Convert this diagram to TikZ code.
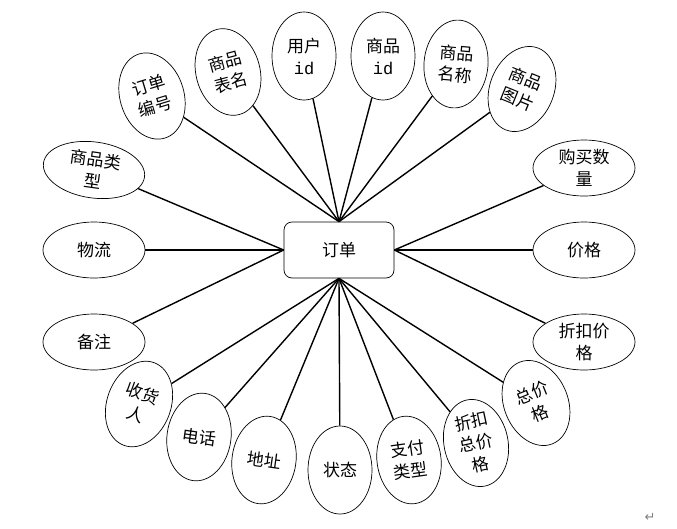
\documentclass[tikz,border=0pt]{standalone}
\usepackage{fontspec}
\setmainfont{Noto Sans CJK SC}
\setmonofont{Liberation Mono}
\newfontfamily\symfont{DejaVu Sans}
\usetikzlibrary{shapes.geometric}
\begin{document}
\begin{tikzpicture}[x=1pt,y=-1pt,
  attr/.style={draw, ellipse, line width=0.7pt, inner sep=0pt, align=center, font=\fontsize{17}{22}\selectfont},
  vattr/.style={attr, minimum width=64pt, minimum height=88pt},
  hattr/.style={attr, minimum width=102pt, minimum height=56pt},
  link/.style={line width=1.4pt}]
\useasboundingbox[fill=white] (0,0) rectangle (677,528);
\node[draw, rounded corners=8pt, minimum width=110pt, minimum height=56pt, line width=0.7pt, font=\fontsize{17}{22}\selectfont] (order) at (339,250) {订单};
\node[vattr, rotate=17] (ddbh) at (152,96) {订单\\编号};
\node[vattr, rotate=15] (spbm) at (228,72) {商品\\表名};
\node[vattr] (yhid) at (304,56) {用户\\{\ttfamily id}};
\node[vattr] (spid) at (383,56) {商品\\{\ttfamily id}};
\node[vattr, rotate=-5] (spmc) at (456,64) {商品\\名称};
\node[vattr, rotate=-22] (sptp) at (522,89) {商品\\图片};
\node[hattr] (gmsl) at (584,168) {购买数\\量};
\node[hattr] (jg) at (584,250) {价格};
\node[hattr] (zkjg) at (584,342) {折扣价\\格};
\node[vattr, rotate=22] (zjg) at (536,403) {总价\\格};
\node[vattr, rotate=12] (zkzjg) at (476,443) {折扣\\总价\\格};
\node[vattr, rotate=8] (zflx) at (409,460) {支付\\类型};
\node[vattr] (zt) at (340,470) {状态};
\node[vattr, rotate=-8] (dz) at (264,460) {地址};
\node[vattr, rotate=-8] (dh) at (199,437) {电话};
\node[vattr, rotate=-20] (shr) at (139,404) {收货\\人};
\node[hattr] (bz) at (94,342) {备注};
\node[hattr] (wl) at (94,250) {物流};
\node[hattr, rotate=-8] (splx) at (94,170) {商品类\\型};
\foreach \n in {ddbh,spbm,yhid,spid,spmc,sptp} \draw[link] (order.north) -- (\n);
\foreach \n in {splx,wl,bz} \draw[link] (order.west) -- (\n);
\foreach \n in {gmsl,jg,zkjg} \draw[link] (order.east) -- (\n);
\foreach \n in {shr,dh,dz,zt,zflx,zkzjg,zjg} \draw[link] (order.south) -- (\n);
\node[text=gray, font=\symfont\fontsize{13}{13}\selectfont] (pm) at (650,517) {↵};
\end{tikzpicture}
\end{document}
